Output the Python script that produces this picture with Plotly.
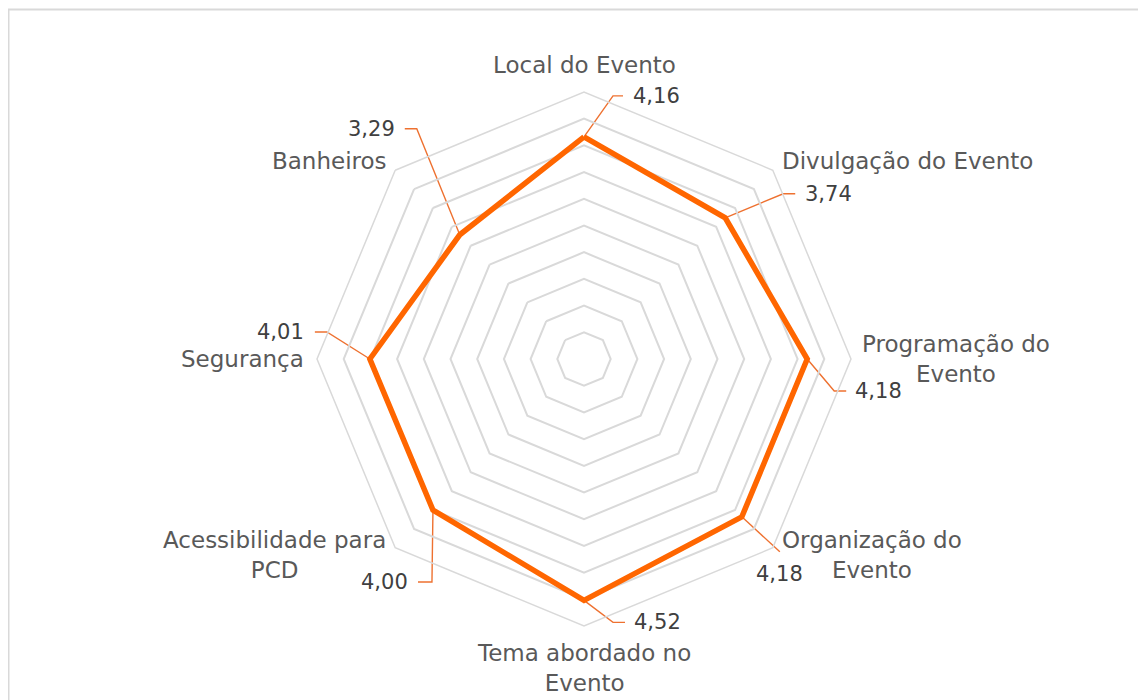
import math
import plotly.graph_objects as go

# ---------------- data ----------------
categories = [
    "Local do Evento",
    "Divulgação do Evento",
    "Programação do Evento",
    "Organização do Evento",
    "Tema abordado no Evento",
    "Acessibilidade para PCD",
    "Segurança",
    "Banheiros",
]
category_display = [
    "Local do Evento",
    "Divulgação do Evento",
    "Programação do<br>Evento",
    "Organização do<br>Evento",
    "Tema abordado no<br>Evento",
    "Acessibilidade para<br>PCD",
    "Segurança",
    "Banheiros",
]
values = [4.16, 3.74, 4.18, 4.18, 4.52, 4.00, 4.01, 3.29]
value_labels = ["4,16", "3,74", "4,18", "4,18", "4,52", "4,00", "4,01", "3,29"]

# ---------------- style / layout ----------------
PAGE_OFF = 8                          # browser body margin
W, H = 1146 - PAGE_OFF, 700 - PAGE_OFF
CX, CY, RAD = 584 - PAGE_OFF, 359 - PAGE_OFF, 267   # polar centre / radius (px)
RMAX = 5.0
S = RMAX / RAD                        # data units per pixel

LINE_COLOR = "#FF6600"
LEADER_COLOR = "#EE7130"
GRID_COLOR = "#D9D9D9"
CAT_COLOR = "#595959"
VAL_COLOR = "#404040"
FONT = "DejaVu Sans"
CAT_SIZE = 23
VAL_SIZE = 21

# leader line: elbow offset from point (px), horizontal tail length (px), text gap
leader_style = [
    dict(dx=29, dy=-41, h=10, gap=8),
    dict(dx=58, dy=-24, h=12, gap=8),
    dict(dx=27, dy=32, h=12, gap=7),
    dict(dx=38, dy=35, h=0, gap=22),
    dict(dx=29, dy=22, h=12, gap=7),
    dict(dx=-1, dy=72, h=-14, gap=8),
    dict(dx=-43, dy=-27, h=-12, gap=9),
    dict(dx=-43, dy=-106, h=-12, gap=8),
]
# category label offset from outer vertex (px) and anchor
cat_style = [
    dict(dx=0, dy=-27, xa="center"),
    dict(dx=7, dy=-9, xa="left"),
    dict(dx=9, dy=0, xa="left"),
    dict(dx=7, dy=7, xa="left"),
    dict(dx=0, dy=42, xa="center"),
    dict(dx=-7, dy=7, xa="right"),
    dict(dx=-11, dy=0, xa="right"),
    dict(dx=-6, dy=-9, xa="right"),
]

n = len(categories)
angles = [2 * math.pi * i / n for i in range(n)]  # clockwise from top


def polar_to_xy(r, a):
    return r * math.sin(a), r * math.cos(a)


fig = go.Figure()

annotations = []
for i in range(n):
    a = angles[i]
    px, py = polar_to_xy(values[i], a)
    st = leader_style[i]
    ex, ey = px + st["dx"] * S, py - st["dy"] * S
    tx = ex + st["h"] * S
    xs, ys = [px, ex], [py, ey]
    if st["h"] != 0:
        xs.append(tx)
        ys.append(ey)
    fig.add_trace(go.Scatter(
        x=xs, y=ys, mode="lines",
        line=dict(color=LEADER_COLOR, width=1.4),
        hoverinfo="skip", showlegend=False,
        xaxis="x", yaxis="y",
    ))
    if st["h"] > 0:
        annotations.append(dict(x=tx + st["gap"] * S, y=ey, text=value_labels[i],
                                xanchor="left", yanchor="middle"))
    elif st["h"] < 0:
        annotations.append(dict(x=tx - st["gap"] * S, y=ey, text=value_labels[i],
                                xanchor="right", yanchor="middle"))
    else:
        annotations.append(dict(x=ex, y=ey - st["gap"] * S, text=value_labels[i],
                                xanchor="center", yanchor="middle"))
    annotations[-1].update(xref="x", yref="y", showarrow=False,
                           font=dict(family=FONT, size=VAL_SIZE, color=VAL_COLOR))

    # category label
    vx, vy = polar_to_xy(RMAX, a)
    cs = cat_style[i]
    annotations.append(dict(
        x=vx + cs["dx"] * S, y=vy - cs["dy"] * S, xref="x", yref="y",
        text=category_display[i], showarrow=False,
        xanchor=cs["xa"], yanchor="middle", align="center",
        font=dict(family=FONT, size=CAT_SIZE, color=CAT_COLOR),
    ))

fig.add_trace(go.Scatterpolar(
    r=values + values[:1],
    theta=categories + categories[:1],
    mode="lines",
    line=dict(color=LINE_COLOR, width=5.5),
    hoverinfo="skip",
    showlegend=False,
    subplot="polar",
))

fig.update_layout(
    width=W, height=H,
    margin=dict(l=0, r=0, t=0, b=0),
    paper_bgcolor="white",
    plot_bgcolor="rgba(0,0,0,0)",
    showlegend=False,
    polar=dict(
        domain=dict(x=[(CX - RAD) / W, (CX + RAD) / W],
                    y=[(H - CY - RAD) / H, (H - CY + RAD) / H]),
        bgcolor="rgba(0,0,0,0)",
        gridshape="linear",
        radialaxis=dict(range=[0, RMAX], dtick=0.5, showticklabels=False,
                        ticks="", showline=False, gridcolor=GRID_COLOR,
                        gridwidth=1.5),
        angularaxis=dict(direction="clockwise", rotation=90,
                         showticklabels=False, ticks="", showgrid=False,
                         showline=True, linecolor=GRID_COLOR, linewidth=1.5),
    ),
    xaxis=dict(domain=[0, 1], range=[-CX * S, (W - CX) * S], visible=False,
               fixedrange=True),
    yaxis=dict(domain=[0, 1], range=[-(H - CY) * S, CY * S], visible=False,
               fixedrange=True),
    annotations=annotations,
    shapes=[dict(type="rect", xref="paper", yref="paper",
                 x0=0.5 / W, x1=1.05, y0=-0.05, y1=1 - 1.5 / H,
                 line=dict(color=GRID_COLOR, width=2))],
)

fig.write_html("out.html")
